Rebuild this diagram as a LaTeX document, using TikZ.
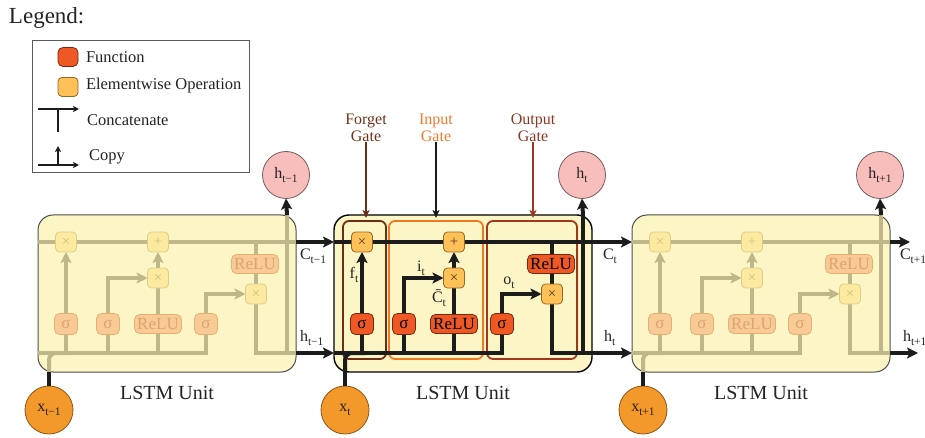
\documentclass[tikz,border=0pt]{standalone}
\usepackage{fontspec}
\setmainfont{Liberation Serif}
\usetikzlibrary{arrows.meta}
\pgfdeclarelayer{bg}
\pgfdeclarelayer{wires}
\pgfsetlayers{bg,wires,main}
\newcommand\subtx[1]{\raisebox{-0.28em}{\fontsize{11.5}{11.5}\selectfont #1}}
\definecolor{cUnit}{RGB}{252,246,198}
\definecolor{cWire}{RGB}{28,28,28}
\definecolor{cWireF}{RGB}{190,183,138}
\definecolor{cEwFill}{RGB}{254,193,88}
\definecolor{cEwDraw}{RGB}{150,105,40}
\definecolor{cEwText}{RGB}{90,60,30}
\definecolor{cEwFillF}{RGB}{252,234,160}
\definecolor{cEwDrawF}{RGB}{225,205,135}
\definecolor{cEwTextF}{RGB}{215,190,120}
\definecolor{cFnFill}{RGB}{238,88,36}
\definecolor{cFnDraw}{RGB}{120,40,15}
\definecolor{cFnFillF}{RGB}{248,202,150}
\definecolor{cFnDrawF}{RGB}{232,175,115}
\definecolor{cFnTextF}{RGB}{222,165,105}
\definecolor{cHFill}{RGB}{248,190,188}
\definecolor{cHDraw}{RGB}{120,90,90}
\definecolor{cXFill}{RGB}{243,152,42}
\definecolor{cXDraw}{RGB}{140,85,25}
\definecolor{cForget}{RGB}{110,45,20}
\definecolor{cInput}{RGB}{240,120,35}
\definecolor{cOutput}{RGB}{160,55,30}
\definecolor{cForgetT}{RGB}{110,50,25}
\definecolor{cInputT}{RGB}{242,122,45}
\definecolor{cOutputT}{RGB}{140,55,35}
\definecolor{cText}{RGB}{35,35,35}
\definecolor{cLeg}{RGB}{90,90,90}
\tikzset{
  every node/.style={inner sep=0pt, outer sep=0pt, text=cText},
  ew/.style={draw=cEwDraw, fill=cEwFill, rounded corners=4pt, minimum width=21pt, minimum height=20pt, line width=0.8pt, text=cEwText, font=\fontsize{15}{15}\selectfont},
  ewF/.style={draw=cEwDrawF, fill=cEwFillF, rounded corners=4pt, minimum width=21pt, minimum height=20pt, line width=0.8pt, text=cEwTextF, font=\fontsize{15}{15}\selectfont},
  fn/.style={draw=cFnDraw, fill=cFnFill, rounded corners=5pt, minimum width=23pt, minimum height=21pt, line width=0.8pt, text=black, font=\fontsize{17}{17}\selectfont},
  fnF/.style={draw=cFnDrawF, fill=cFnFillF, rounded corners=5pt, minimum width=23pt, minimum height=21pt, line width=0.8pt, text=cFnTextF, font=\fontsize{17}{17}\selectfont},
  relu/.style={minimum width=47pt, minimum height=19pt},
  wire/.style={line width=4pt, draw=cWire},
  wireF/.style={line width=4pt, draw=cWireF},
  bk/.style={line width=4pt, draw=cWire},
  arr/.style={-{Stealth[length=11pt,width=11pt,inset=2.5pt]}},
  unitbox/.style={draw=black, fill=cUnit, rounded corners=15pt, line width=1.4pt, minimum width=258pt, minimum height=157pt},
  unitboxF/.style={draw=black!70, fill=cUnit, rounded corners=15pt, line width=1pt, minimum width=258pt, minimum height=157pt},
  hcirc/.style={circle, minimum size=47pt, fill=cHFill, draw=cHDraw, line width=0.8pt, font=\fontsize{16}{16}\selectfont},
  xcirc/.style={circle, minimum size=48pt, fill=cXFill, draw=cXDraw, line width=0.8pt, font=\fontsize{16}{16}\selectfont},
  lbl/.style={font=\fontsize{16}{16}\selectfont},
  gatebox/.style={rounded corners=6pt, line width=1.8pt, anchor=north west, minimum height=138pt},
  gatelbl/.style={align=center, font=\fontsize{16}{17}\selectfont},
  gatearr/.style={line width=2pt, -{Stealth[length=8pt,width=7pt,inset=2pt]}, shorten >=3pt},
  legline/.style={line width=2.2pt, draw=cWire},
  legarr/.style={-{Stealth[length=6pt,width=6pt,inset=1.5pt]}},
  legtxt/.style={anchor=west, font=\fontsize{16.5}{16.5}\selectfont},
}
% #1 prefix, #2 left x, #3 style suffix, #4 h text, #5 x text
\newcommand\lstmunit[5]{%
\begin{scope}[shift={(#2,0)}]
  \begin{pgfonlayer}{bg}
    \node[unitbox#3, anchor=north west] (#1box) at (0,215) {};
  \end{pgfonlayer}
  \node[ew#3] (#1mf) at (28,242) {×};
  \node[ew#3] (#1pl) at (120,242) {+};
  \node[ew#3] (#1mi) at (120,278) {×};
  \node[fn#3,relu] (#1ro) at (217,264) {ReLU};
  \node[ew#3] (#1mo) at (218,294) {×};
  \node[fn#3] (#1sf) at (28,324) {σ};
  \node[fn#3] (#1si) at (70,324) {σ};
  \node[fn#3,relu] (#1ri) at (120,324) {ReLU};
  \node[fn#3] (#1so) at (168,324) {σ};
  \coordinate (#1cin) at (0,242);
  \coordinate (#1cout) at (258,242);
  \coordinate (#1hin) at (0,353);
  \coordinate (#1hout) at (258,353);
  \coordinate (#1vb) at (249,355);
  \coordinate (#1vt) at (249,215);
  \coordinate (#1xb) at (11,372);
  \coordinate (#1xj) at (32,353);
  \node[hcirc] (#1hc) at (248,175) {#4};
  \node[xcirc] (#1xc) at (11,410) {#5};
  \node[font=\fontsize{20}{20}\selectfont] (#1lab) at (129,393) {LSTM Unit};
  \begin{pgfonlayer}{wires}
    \draw[wire#3] (#1cin) -- (#1cout);
    \draw[wire#3] (#1hin) -| (#1so.south);
    \draw[wire#3] (#1sf.south |- #1hin) -- (#1sf.south);
    \draw[wire#3] (#1si.south |- #1hin) -- (#1si.south);
    \draw[wire#3] (#1ri.south |- #1hin) -- (#1ri.south);
    \draw[wire#3,arr] (#1sf.north) -- (#1mf.south);
    \draw[wire#3,arr] (#1si.north) |- (#1mi.west);
    \draw[wire#3] (#1ri.north) -- (#1mi.south);
    \draw[wire#3,arr] (#1mi.north) -- (#1pl.south);
    \draw[wire#3,arr] (#1so.north) |- (#1mo.west);
    \draw[wire#3] (#1mo.north |- #1cin) -- (#1mo.north);
    \draw[wire#3] (#1mo.south) |- (#1hout);
    \draw[wire#3] (#1vb) -- (#1vt);
    \draw[wire#3, rounded corners=7pt] (#1xb) |- (#1xj);
  \end{pgfonlayer}
  \draw[bk] (#1xc.north) -- (#1xb);
  \draw[bk,arr] (#1vt) -- (#1hc.south);
\end{scope}}
\begin{document}
\begin{tikzpicture}[x=1pt,y=-1pt]
\useasboundingbox (0,0) rectangle (925,438);
\clip (0,0) rectangle (925,438);
% Legend
\node[anchor=west, font=\fontsize{23}{23}\selectfont] (legt) at (9,18) {Legend:};
\node[draw=cLeg, line width=1pt, minimum width=217pt, minimum height=132pt, anchor=north west] (legbox) at (32,41) {};
\node[fn, minimum width=20pt, minimum height=19pt] (legfn) at (68,57) {};
\node[ew, minimum width=20pt, minimum height=19pt] (legew) at (68,87) {};
\node[legtxt] (legfnt) at (86,57) {Function};
\node[legtxt] (legewt) at (86,86) {Elementwise Operation};
\coordinate (cc1) at (38,109);
\coordinate (cc2) at (79,109);
\coordinate (cc3) at (58,109);
\coordinate (cc4) at (58,132);
\draw[legline,legarr] (cc1) -- (cc2);
\draw[legline] (cc3) -- (cc4);
\node[legtxt] (legct) at (87,120) {Concatenate};
\coordinate (cp1) at (38,165);
\coordinate (cp2) at (79,165);
\coordinate (cp3) at (58,165);
\coordinate (cp4) at (58,146);
\draw[legline,legarr] (cp1) -- (cp2);
\draw[legline,legarr] (cp3) -- (cp4);
\node[legtxt] (legcpt) at (89,157) {Copy};
% Units
\lstmunit{l}{38}{F}{h\subtx{t−1}}{x\subtx{t−1}}
\lstmunit{m}{334}{}{h\subtx{t}}{x\subtx{t}}
\lstmunit{r}{632}{F}{h\subtx{t+1}}{x\subtx{t+1}}
% Gate boxes
\begin{pgfonlayer}{bg}
  \node[gatebox, draw=cForget, minimum width=43pt] (fgate) at (343,221) {};
  \node[gatebox, draw=cInput, minimum width=94pt] (igate) at (389,221) {};
  \node[gatebox, draw=cOutput, minimum width=90pt] (ogate) at (487,221) {};
\end{pgfonlayer}
\node[gatelbl, text=cForgetT] (fgl) at (366,128) {Forget\\Gate};
\node[gatelbl, text=cInputT] (igl) at (436,128) {Input\\Gate};
\node[gatelbl, text=cOutputT] (ogl) at (533,128) {Output\\Gate};
\draw[gatearr, draw=cForget] (fgl.south) -- (fgl.south |- fgate.north);
\draw[gatearr, draw=cWire] (igl.south) -- (igl.south |- igate.north);
\draw[gatearr, draw=cOutput] (ogl.south) -- (ogl.south |- ogate.north);
% middle labels
\node[lbl] (flab) at (354,275) {f\subtx{t}};
\node[lbl] (ilab) at (421,268) {i\subtx{t}};
\node[lbl] (cblab) at (439,298) {\=C\subtx{t}};
\node[lbl] (olab) at (509,283) {o\subtx{t}};
% connections between units
\coordinate (cend) at (910,242);
\coordinate (hend) at (918,353);
\draw[bk,arr] (lcout) -- (mcin);
\draw[bk,arr] (lhout) -- (mhin);
\draw[bk,arr] (mcout) -- (rcin);
\draw[bk,arr] (mhout) -- (rhin);
\draw[bk,arr] (rcout) -- (cend);
\draw[bk,arr] (rhout) -- (hend);
% state labels
\node[lbl, anchor=west] (c1) at (300,256) {C\subtx{t−1}};
\node[lbl, anchor=west] (h1) at (300,338) {h\subtx{t−1}};
\node[lbl, anchor=west] (c2) at (603,256) {C\subtx{t}};
\node[lbl, anchor=west] (h2) at (604,338) {h\subtx{t}};
\node[lbl, anchor=west] (c3) at (900,256) {C\subtx{t+1}};
\node[lbl, anchor=west] (h3) at (903,338) {h\subtx{t+1}};
\end{tikzpicture}
\end{document}
